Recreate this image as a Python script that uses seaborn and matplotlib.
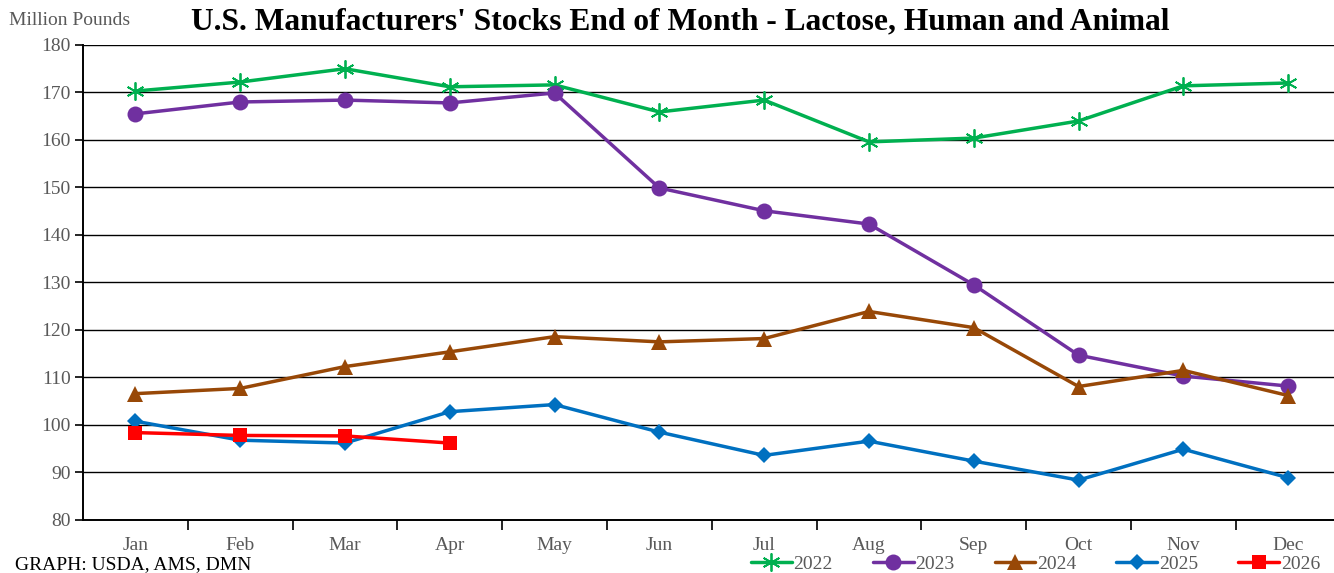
import matplotlib
matplotlib.use("Agg")
import matplotlib.pyplot as plt
import seaborn as sns
import pandas as pd

months = ["Jan", "Feb", "Mar", "Apr", "May", "Jun", "Jul", "Aug", "Sep", "Oct", "Nov", "Dec"]
s2022 = [170.3, 172.2, 175.0, 171.2, 171.6, 165.9, 168.4, 159.6, 160.4, 164.0, 171.4, 172.0]
s2023 = [165.5, 168.0, 168.4, 167.8, 169.9, 149.9, 145.1, 142.3, 129.5, 114.7, 110.3, 108.2]
s2024 = [106.6, 107.7, 112.3, 115.4, 118.6, 117.5, 118.2, 123.9, 120.5, 108.1, 111.5, 106.2]
s2025 = [100.8, 96.8, 96.2, 102.8, 104.3, 98.5, 93.6, 96.6, 92.4, 88.4, 94.9, 88.9]
s2026 = [98.4, 97.8, 97.7, 96.2]

series = {"2022": s2022, "2023": s2023, "2024": s2024, "2025": s2025, "2026": s2026}
colors = {"2022": "#00B050", "2023": "#7030A0", "2024": "#984807", "2025": "#0070C0", "2026": "#FF0000"}
markers = {"2022": (6, 2, 0), "2023": "o", "2024": "^", "2025": "D", "2026": "s"}
msizes = {"2022": 13, "2023": 11.5, "2024": 11, "2025": 8.5, "2026": 10}

rows = []
for yr, vals in series.items():
    for i, v in enumerate(vals):
        rows.append({"year": yr, "idx": i, "value": v})
df = pd.DataFrame(rows)

sns.set_style("white")
plt.rcParams["font.family"] = ["Liberation Serif", "DejaVu Serif"]

fig = plt.figure(figsize=(13.34, 5.73), dpi=100)
ax = fig.add_axes([0.0622, 0.0925, 0.9427, 0.829])

for yr in series:
    sub = df[df["year"] == yr]
    sns.lineplot(data=sub, x="idx", y="value", ax=ax, color=colors[yr], linewidth=2.5,
                 marker=markers[yr], markersize=msizes[yr], markeredgecolor=colors[yr],
                 markeredgewidth=1.3 if yr == "2022" else 0, label=yr, zorder=3)

ax.set_xlim(-0.5, 11.5)
ax.set_ylim(80, 180)
ax.set_yticks(range(80, 181, 10))
ax.tick_params(axis="y", left=True, labelsize=14, labelcolor="#595959", length=6, width=1.2,
               direction="out", color="black", pad=3)
ax.grid(axis="y", color="black", linewidth=1)
ax.grid(axis="x", visible=False)
ax.set_axisbelow(True)

# category ticks at boundaries, labels centered
ax.set_xticks([i + 0.5 for i in range(12)])
ax.set_xticklabels([])
ax.set_xticks(range(12), minor=True)
ax.set_xticklabels(months, minor=True)
ax.tick_params(axis="x", which="major", bottom=True, length=7, width=1.2, direction="out", color="black")
ax.tick_params(axis="x", which="minor", bottom=True, length=0, labelsize=14, labelcolor="#595959", pad=12)

for side in ["top", "right"]:
    ax.spines[side].set_visible(False)
for side in ["left", "bottom"]:
    ax.spines[side].set_color("black")
    ax.spines[side].set_linewidth(1.4)

ax.set_xlabel("")
ax.set_ylabel("")
ax.get_legend().remove()

handles, labels = ax.get_legend_handles_labels()
fig.legend(handles, labels, loc="center right", bbox_to_anchor=(0.997, 0.016), ncol=5, frameon=False,
           fontsize=14, handlelength=2.1, columnspacing=2.05, handletextpad=0.1,
           labelcolor="#595959", borderpad=0.0)

fig.text(0.007, 0.965, "Million Pounds", fontsize=14, color="#595959", va="center", ha="left")
fig.text(0.51, 0.962, "U.S. Manufacturers' Stocks End of Month - Lactose, Human and Animal",
         fontsize=22.7, fontweight="bold", color="black", va="center", ha="center")
fig.text(0.011, 0.014, "GRAPH: USDA, AMS, DMN", fontsize=14, color="black", va="center", ha="left")

fig.savefig("out.png", dpi=100)
